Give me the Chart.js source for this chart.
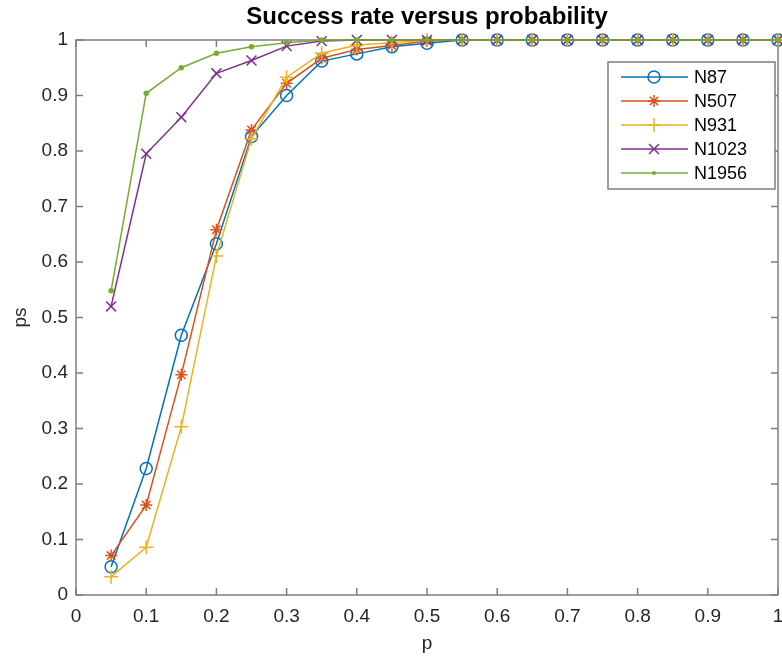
<!DOCTYPE html>
<html>
<head>
<meta charset="utf-8">
<script src="https://cdn.jsdelivr.net/npm/chart.js@4/dist/chart.umd.min.js"></script>
<style>
  html, body { margin: 0; padding: 0; background: #fff; }
  canvas { display: block; }
</style>
</head>
<body>
<canvas id="lineChart" width="782" height="663"></canvas>
<script>
// data
var pValues = [0.05, 0.1, 0.15, 0.2, 0.25, 0.3, 0.35, 0.4, 0.45, 0.5, 0.55, 0.6, 0.65, 0.7, 0.75, 0.8, 0.85, 0.9, 0.95, 1];

var seriesNames = ["N87", "N507", "N931", "N1023", "N1956"];

var n87   = [0.051, 0.228, 0.468, 0.633, 0.826, 0.900, 0.962, 0.975, 0.988, 0.994, 1, 1, 1, 1, 1, 1, 1, 1, 1, 1];
var n507  = [0.071, 0.162, 0.397, 0.658, 0.838, 0.922, 0.967, 0.983, 0.990, 0.998, 1, 1, 1, 1, 1, 1, 1, 1, 1, 1];
var n931  = [0.033, 0.086, 0.303, 0.611, 0.822, 0.933, 0.976, 0.991, 0.995, 1, 1, 1, 1, 1, 1, 1, 1, 1, 1, 1];
var n1023 = [0.520, 0.795, 0.861, 0.940, 0.963, 0.989, 0.998, 1, 1, 1, 1, 1, 1, 1, 1, 1, 1, 1, 1, 1];
var n1956 = [0.548, 0.904, 0.950, 0.976, 0.988, 0.995, 1, 1, 1, 1, 1, 1, 1, 1, 1, 1, 1, 1, 1, 1];

var xTickValues = [0, 0.1, 0.2, 0.3, 0.4, 0.5, 0.6, 0.7, 0.8, 0.9, 1];
var xTickLabels = ["0", "0.1", "0.2", "0.3", "0.4", "0.5", "0.6", "0.7", "0.8", "0.9", "1"];
var yTickValues = [0, 0.1, 0.2, 0.3, 0.4, 0.5, 0.6, 0.7, 0.8, 0.9, 1];
var yTickLabels = ["0", "0.1", "0.2", "0.3", "0.4", "0.5", "0.6", "0.7", "0.8", "0.9", "1"];

var chartTitle = "Success rate versus probability";

// MATLAB default colour order
var colors = ["#0072BD", "#D95319", "#EDB120", "#7E2F8E", "#77AC30"];
var markers = ["circle", "star", "cross", "crossRot", "circle"];
var markerSizes = [6, 6, 7, 7, 2];

var fontFamily = "'Liberation Sans', Arial, Helvetica, sans-serif";
var axisColor = "#7d7d7d";
var textColor = "#262626";

function toPoints(values) {
    return values.map(function (v, i) { return {x: pValues[i], y: v}; });
}

var seriesValues = [n87, n507, n931, n1023, n1956];

var datasets = seriesValues.map(function (vals, i) {
    return {
        label: seriesNames[i],
        data: toPoints(vals),
        borderColor: colors[i],
        backgroundColor: i === 4 ? colors[i] : "rgba(0,0,0,0)",
        borderWidth: 1.5,
        pointStyle: markers[i],
        pointRadius: markerSizes[i],
        pointHoverRadius: markerSizes[i],
        pointBorderColor: colors[i],
        pointBackgroundColor: i === 4 ? colors[i] : "rgba(0,0,0,0)",
        pointBorderWidth: 1.5,
        tension: 0,
        clip: false,
        order: 5 - i   // later series drawn on top, like MATLAB
    };
});

// own marker drawing for the legend samples
function drawMarker(ctx, style, r, x, y, color) {
    ctx.save();
    ctx.strokeStyle = color;
    ctx.fillStyle = color;
    ctx.lineWidth = 1.5;
    ctx.beginPath();
    if (style === "circle") {
        ctx.arc(x, y, r, 0, Math.PI * 2);
        if (r <= 2) { ctx.fill(); } else { ctx.stroke(); }
    } else if (style === "cross") {
        ctx.moveTo(x - r, y); ctx.lineTo(x + r, y);
        ctx.moveTo(x, y - r); ctx.lineTo(x, y + r);
        ctx.stroke();
    } else if (style === "crossRot") {
        var d = r * Math.SQRT1_2;
        ctx.moveTo(x - d, y - d); ctx.lineTo(x + d, y + d);
        ctx.moveTo(x - d, y + d); ctx.lineTo(x + d, y - d);
        ctx.stroke();
    } else if (style === "star") {
        var s = r * Math.SQRT1_2;
        ctx.moveTo(x - r, y); ctx.lineTo(x + r, y);
        ctx.moveTo(x, y - r); ctx.lineTo(x, y + r);
        ctx.moveTo(x - s, y - s); ctx.lineTo(x + s, y + s);
        ctx.moveTo(x - s, y + s); ctx.lineTo(x + s, y - s);
        ctx.stroke();
    }
    ctx.restore();
}

// axes box with inward ticks, drawn under the data
var matlabAxes = {
    id: "matlabAxes",
    beforeDatasetsDraw: function (chart) {
        var ctx = chart.ctx, a = chart.chartArea;
        var xs = chart.scales.x, ys = chart.scales.y;
        var tick = 7;
        ctx.save();
        ctx.strokeStyle = axisColor;
        ctx.lineWidth = 1.5;
        ctx.strokeRect(a.left, a.top, a.right - a.left, a.bottom - a.top);
        ctx.beginPath();
        xTickValues.forEach(function (v) {
            var px = xs.getPixelForValue(v);
            ctx.moveTo(px, a.bottom); ctx.lineTo(px, a.bottom - tick);
            ctx.moveTo(px, a.top); ctx.lineTo(px, a.top + tick);
        });
        yTickValues.forEach(function (v) {
            var py = ys.getPixelForValue(v);
            ctx.moveTo(a.left, py); ctx.lineTo(a.left + tick, py);
            ctx.moveTo(a.right, py); ctx.lineTo(a.right - tick, py);
        });
        ctx.stroke();
        ctx.restore();
    },
    afterDraw: function (chart) {
        var ctx = chart.ctx, a = chart.chartArea;
        ctx.save();
        // title, centred over the axes
        ctx.font = "bold 24px " + fontFamily;
        ctx.fillStyle = "#000";
        ctx.textAlign = "center";
        ctx.textBaseline = "alphabetic";
        ctx.fillText(chartTitle, (a.left + a.right) / 2, 24);

        // legend box
        var bx = a.right - 170, by = a.top + 22, bw = 167, bh = 127;
        ctx.fillStyle = "#fff";
        ctx.fillRect(bx, by, bw, bh);
        ctx.strokeStyle = axisColor;
        ctx.lineWidth = 1.5;
        ctx.strokeRect(bx, by, bw, bh);
        ctx.font = "18px " + fontFamily;
        ctx.textAlign = "left";
        ctx.textBaseline = "middle";
        chart.data.datasets.forEach(function (ds, i) {
            var y = by + 15 + i * 24;
            ctx.strokeStyle = ds.borderColor;
            ctx.lineWidth = 1.5;
            ctx.beginPath();
            ctx.moveTo(bx + 13, y); ctx.lineTo(bx + 80, y);
            ctx.stroke();
            drawMarker(ctx, ds.pointStyle, ds.pointRadius, bx + 46, y, ds.borderColor);
            ctx.fillStyle = "#000";
            ctx.fillText(ds.label, bx + 86, y + 1);
        });
        ctx.restore();
    }
};

var ctx = document.getElementById("lineChart").getContext("2d");
new Chart(ctx, {
    type: "line",
    data: {datasets: datasets},
    options: {
        responsive: false,
        animation: false,
        layout: {autoPadding: false, padding: {top: 40, right: 4, left: 0, bottom: 0}},
        plugins: {
            legend: {display: false},
            title: {display: false},
            tooltip: {enabled: false}
        },
        scales: {
            x: {
                type: "linear",
                position: "bottom",
                min: 0,
                max: 1,
                grid: {display: false, drawTicks: false},
                border: {display: false},
                afterBuildTicks: function (scale) {
                    scale.ticks = xTickValues.map(function (v) { return {value: v}; });
                },
                afterFit: function (scale) {
                    scale.height = 68;
                    scale.paddingLeft = 0;
                    scale.paddingRight = 0;
                },
                ticks: {
                    autoSkip: false,
                    maxRotation: 0,
                    padding: 10,
                    color: textColor,
                    font: {family: fontFamily, size: 19},
                    callback: function (v, i) { return xTickLabels[i]; }
                },
                title: {
                    display: true,
                    text: "p",
                    color: textColor,
                    font: {family: fontFamily, size: 19},
                    padding: {top: 0, bottom: 8}
                }
            },
            y: {
                type: "linear",
                position: "left",
                min: 0,
                max: 1,
                grid: {display: false, drawTicks: false},
                border: {display: false},
                afterBuildTicks: function (scale) {
                    scale.ticks = yTickValues.map(function (v) { return {value: v}; });
                },
                afterFit: function (scale) {
                    scale.width = 76;
                    scale.paddingTop = 0;
                    scale.paddingBottom = 0;
                },
                ticks: {
                    autoSkip: false,
                    padding: 8,
                    color: textColor,
                    font: {family: fontFamily, size: 19},
                    callback: function (v, i) { return yTickLabels[i]; }
                },
                title: {
                    display: true,
                    text: "ps",
                    color: textColor,
                    font: {family: fontFamily, size: 19},
                    padding: {top: 9, bottom: 0}
                }
            }
        }
    },
    plugins: [matlabAxes]
});
</script>
</body>
</html>
